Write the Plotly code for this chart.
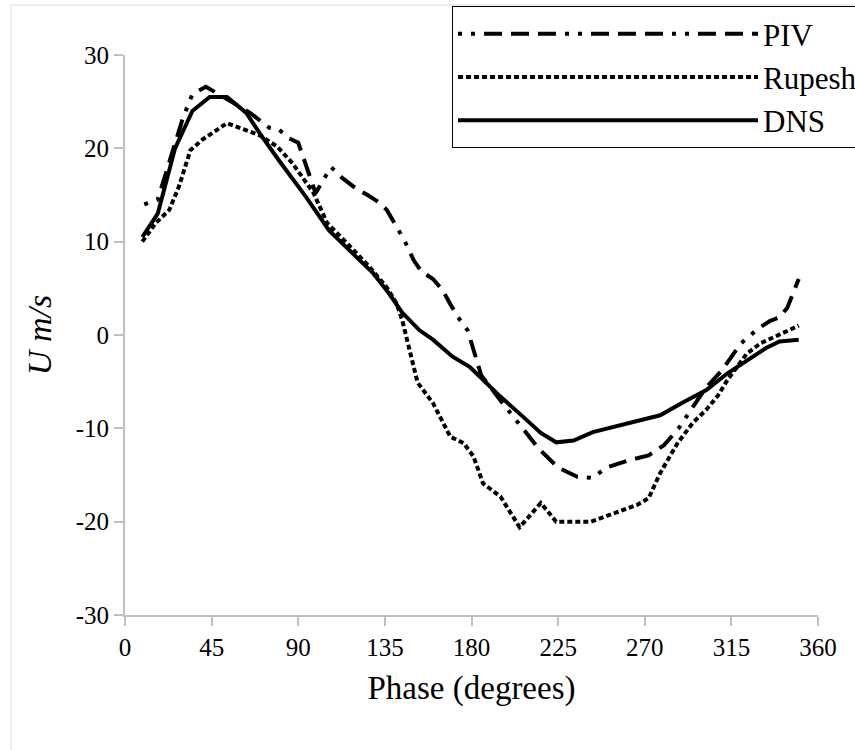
import plotly.graph_objects as go

# Phase (degrees) and U (m/s)
piv_x = [10, 17, 20, 25, 30, 35, 42, 47, 55, 65, 75, 80, 85, 90, 99, 107, 113, 120, 126, 132, 136, 140,
         145, 150, 154, 160, 165, 169, 173, 178, 181, 185, 195, 205, 215, 225, 235, 243, 250, 262, 272,
         280, 288, 295, 302, 310, 320, 329, 335, 340, 344, 350]
piv_y = [14, 14.5, 16.5, 20, 23.2, 25.8, 26.6, 26, 25, 23.8, 22.2, 22, 21.1, 20.6, 15.2, 18, 16.8, 15.7,
         15, 14.2, 13.4, 12, 10.2, 8, 6.8, 6, 4.8, 3.3, 1.9, 0.5, -1.6, -4.3, -7, -9.6, -12.2, -14.2,
         -15.2, -15.3, -14.2, -13.4, -12.9, -11.8, -9.9, -7.7, -5.6, -3.8, -0.9, 0.7, 1.5, 1.9, 2.9, 6.0]

rup_x = [9, 16, 23, 28, 34, 40, 53, 63, 70, 79, 87, 98, 105, 115, 127, 136, 141, 144, 147, 152, 160,
         169, 176, 181, 186, 195, 205, 216, 224, 242, 254, 266, 272, 278, 287, 295, 302, 308, 313, 323,
         330, 339, 350]
rup_y = [10, 12, 13.4, 15.9, 19.8, 20.9, 22.7, 22, 21.4, 20.2, 18.4, 15.2, 12, 9.9, 7.3, 5.1, 3.4, 1.6,
         -0.9, -5.1, -7.3, -10.9, -11.6, -13, -15.9, -17.3, -20.6, -18, -20, -20, -19.1, -18.2, -17.5,
         -14.8, -11.6, -9.4, -8, -6.5, -4.8, -2, -0.9, 0, 1]

dns_x = [9, 17, 26, 35, 44, 53, 63, 70, 80, 94, 106, 118, 129, 137, 144, 153, 160, 170, 179, 186, 195,
         207, 216, 224, 233, 243, 260, 278, 290, 302, 313, 321, 333, 340, 350]
dns_y = [10.5, 13, 20, 24, 25.5, 25.5, 23.8, 21.6, 18.7, 14.8, 11.2, 8.8, 6.6, 4.5, 2.4, 0.5, -0.5, -2.3,
         -3.4, -4.8, -6.6, -8.8, -10.5, -11.5, -11.3, -10.4, -9.5, -8.6, -7.2, -5.9, -4.1, -3, -1.4,
         -0.7, -0.5]

series_names = ["PIV", "Rupesh", "DNS"]
x_ticks = [0, 45, 90, 135, 180, 225, 270, 315, 360]
y_ticks = [-30, -20, -10, 0, 10, 20, 30]
y_ticktext = ["-30", "-20", "-10", "0", "10", "20", "30"]

FONT = "Liberation Serif, Times New Roman, serif"
AXIS_GRAY = "#BFBFBF"

fig = go.Figure()
fig.add_trace(go.Scatter(x=piv_x, y=piv_y, mode="lines", name=series_names[0],
                         line=dict(color="black", width=4,
                                   dash="4px,9px,4px,9px,18px,9px,18px,9px,18px,9px")))
fig.add_trace(go.Scatter(x=rup_x, y=rup_y, mode="lines", name=series_names[1],
                         line=dict(color="black", width=4, dash="5px,3px")))
fig.add_trace(go.Scatter(x=dns_x, y=dns_y, mode="lines", name=series_names[2],
                         line=dict(color="black", width=4)))

fig.update_layout(
    width=855, height=750,
    margin=dict(l=125, r=37, t=55, b=135, autoexpand=False),
    paper_bgcolor="white", plot_bgcolor="white",
    font=dict(family=FONT, color="black", size=25),
    showlegend=True,
    legend=dict(x=(452 - 125) / 693, y=(615 - 6) / 560, xanchor="left", yanchor="top",
                bordercolor="black", borderwidth=1, bgcolor="white",
                font=dict(family=FONT, size=31), itemwidth=300,
                tracegroupgap=0),
    xaxis=dict(range=[0, 360], tickvals=x_ticks, showline=True, linecolor=AXIS_GRAY, linewidth=2,
               ticks="outside", ticklen=9, tickwidth=2, tickcolor=AXIS_GRAY, showgrid=False,
               zeroline=False, tickfont=dict(size=25, family=FONT),
               title=dict(text="Phase (degrees)", font=dict(size=33, family=FONT), standoff=16)),
    yaxis=dict(range=[-30, 30], tickvals=y_ticks, ticktext=y_ticktext, showline=True,
               linecolor=AXIS_GRAY, linewidth=2,
               ticks="outside", ticklen=9, tickwidth=2, tickcolor=AXIS_GRAY, showgrid=False,
               zeroline=False, tickfont=dict(size=25, family=FONT),
               title=dict(text="<i>U m/s</i>", font=dict(size=34, family=FONT), standoff=14)),
    shapes=[dict(type="rect", xref="paper", yref="paper",
                 x0=(11 - 125) / 693, x1=1.2, y0=-0.3, y1=(615 - 5) / 560,
                 line=dict(color="#D9D9D9", width=1), fillcolor="rgba(0,0,0,0)", layer="below")],
)

fig.write_html("out.html")
